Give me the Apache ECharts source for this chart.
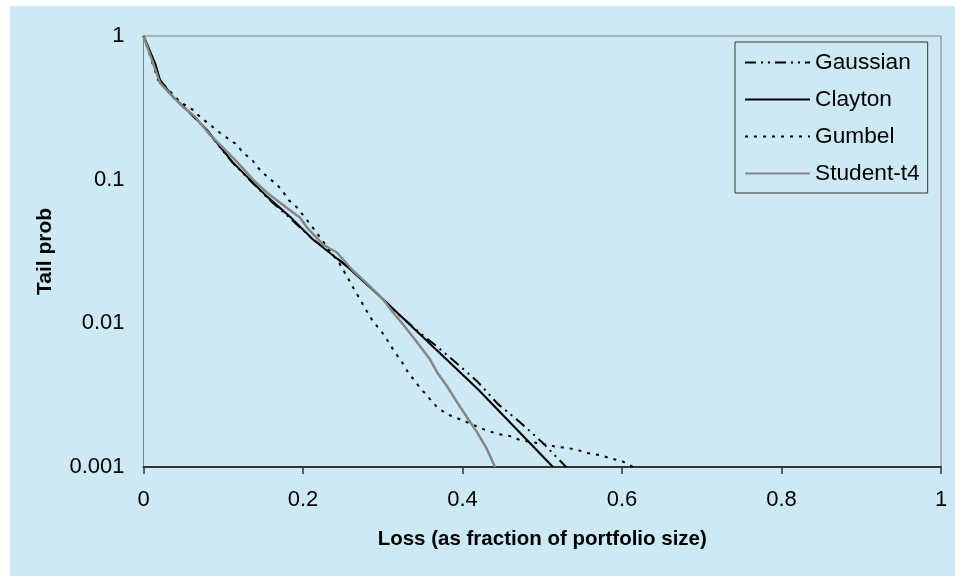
<!DOCTYPE html>
<html>
<head>
<meta charset="utf-8">
<title>Tail probability of portfolio loss</title>
<script src="https://cdn.jsdelivr.net/npm/echarts@6/dist/echarts.min.js"></script>
<style>
  html, body { margin: 0; padding: 0; background: #ffffff; }
  #wrap { position: relative; width: 966px; height: 578px; background: #ffffff; overflow: hidden; }
  #panel { position: absolute; left: 10px; top: 6px; width: 945px; height: 570px; background: #cdeaf4; }
  #chart { position: absolute; left: 0; top: 0; width: 966px; height: 578px; }
</style>
</head>
<body>
<div id="wrap">
  <div id="panel"></div>
  <div id="chart"></div>
</div>
<script>
// Loss levels (fraction of portfolio size) and tail probabilities per copula
const gaussianLoss = [0, 0.0144, 0.0207, 0.037, 0.0583, 0.0796, 0.0959, 0.112, 0.1335, 0.155, 0.1837, 0.2125, 0.2552, 0.2966, 0.3179, 0.3442, 0.3693, 0.3969, 0.4182, 0.4445, 0.4721, 0.4997, 0.53];
const gaussianProb = [1, 0.64, 0.49, 0.375, 0.29, 0.22, 0.168, 0.131, 0.099, 0.075, 0.054, 0.0385, 0.025, 0.0155, 0.0118, 0.0088, 0.0068, 0.00503, 0.00396, 0.00274, 0.00205, 0.00149, 0.001];

const claytonLoss = [0, 0.0144, 0.0207, 0.037, 0.0583, 0.0796, 0.0959, 0.112, 0.1335, 0.155, 0.1837, 0.2125, 0.2552, 0.2966, 0.3179, 0.4194, 0.5135];
const claytonProb = [1, 0.65, 0.495, 0.377, 0.292, 0.222, 0.170, 0.132, 0.100, 0.0762, 0.0553, 0.0383, 0.0249, 0.0154, 0.0119, 0.00348, 0.001];

const gumbelLoss = [0, 0.0182, 0.0232, 0.0458, 0.062, 0.0708, 0.0834, 0.0959, 0.117, 0.1248, 0.136, 0.1436, 0.1548, 0.1674, 0.1749, 0.1812, 0.1925, 0.2025, 0.2113, 0.2464, 0.2552, 0.2627, 0.2715, 0.2802, 0.2878, 0.2991, 0.3066, 0.3129, 0.3241, 0.3317, 0.3442, 0.3592, 0.368, 0.3806, 0.3931, 0.4056, 0.4194, 0.432, 0.4445, 0.4595, 0.4721, 0.4997, 0.5185, 0.531, 0.5448, 0.5574, 0.5724, 0.5875, 0.6, 0.6138];
const gumbelProb = [1, 0.495, 0.47, 0.348, 0.306, 0.274, 0.241, 0.212, 0.175, 0.154, 0.138, 0.121, 0.105, 0.0923, 0.0826, 0.0727, 0.0639, 0.0545, 0.0472, 0.0257, 0.0212, 0.0178, 0.0147, 0.0121, 0.0103, 0.00866, 0.0075, 0.00659, 0.00536, 0.00457, 0.00371, 0.00297, 0.00261, 0.00233, 0.00219, 0.00205, 0.0019, 0.00178, 0.0017, 0.00164, 0.00154, 0.00145, 0.00138, 0.00136, 0.00131, 0.00125, 0.00121, 0.00114, 0.0011, 0.001];

const studentLoss = [0, 0.0207, 0.037, 0.0495, 0.0646, 0.0708, 0.0834, 0.0997, 0.1172, 0.1373, 0.1549, 0.1712, 0.1875, 0.1962, 0.205, 0.2251, 0.2426, 0.2614, 0.284, 0.3003, 0.3129, 0.3254, 0.343, 0.3592, 0.368, 0.3806, 0.3931, 0.4056, 0.4182, 0.4307, 0.4408];
const studentProb = [1, 0.472, 0.377, 0.321, 0.274, 0.249, 0.205, 0.167, 0.133, 0.1, 0.0812, 0.0692, 0.059, 0.0545, 0.0464, 0.0354, 0.0311, 0.0237, 0.0181, 0.0147, 0.0119, 0.00984, 0.00738, 0.00562, 0.00457, 0.00365, 0.00283, 0.00222, 0.00175, 0.00133, 0.001];

const seriesNames = ['Gaussian', 'Clayton', 'Gumbel', 'Student-t4'];
const xTickLabels = ['0', '0.2', '0.4', '0.6', '0.8', '1'];
const yTickLabels = ['0.001', '0.01', '0.1', '1'];
const xTitle = 'Loss (as fraction of portfolio size)';
const yTitle = 'Tail prob';

function pairs(xs, ys) {
  return xs.map((x, i) => [x, ys[i]]);
}

const FONT = '"Liberation Sans", Arial, Helvetica, sans-serif';

const chart = echarts.init(document.getElementById('chart'), null, { renderer: 'canvas' });

chart.setOption({
  animation: false,
  backgroundColor: 'transparent',
  textStyle: { fontFamily: FONT },
  grid: {
    left: 143.5,
    top: 36,
    right: 25,
    bottom: 111,
    show: true,
    borderColor: '#808080',
    borderWidth: 1,
    backgroundColor: 'transparent'
  },
  legend: {
    orient: 'vertical',
    left: 735,
    top: 42,
    padding: [9, 8, 8, 9],
    itemWidth: 65,
    itemHeight: 16,
    itemGap: 14,
    borderColor: '#333333',
    borderWidth: 1,
    // line samples only, no marker in the middle
    itemStyle: { color: 'transparent', borderColor: 'transparent', borderWidth: 0, opacity: 0 },
    textStyle: { fontFamily: FONT, fontSize: 22.7, color: '#000000' },
    data: seriesNames
  },
  xAxis: {
    type: 'value',
    min: 0,
    max: 1,
    interval: 0.2,
    name: xTitle,
    nameLocation: 'middle',
    nameGap: 62,
    nameTextStyle: { fontFamily: FONT, fontSize: 20.5, fontWeight: 'bold', color: '#000000' },
    axisLine: { show: true, lineStyle: { color: '#333333', width: 2 } },
    axisTick: { show: true, length: 7, lineStyle: { color: '#333333', width: 1.5 } },
    axisLabel: {
      margin: 22,
      fontFamily: FONT,
      fontSize: 22,
      color: '#000000',
      formatter: v => xTickLabels[Math.round(v / 0.2)]
    },
    splitLine: { show: false }
  },
  yAxis: {
    type: 'log',
    logBase: 10,
    min: 0.001,
    max: 1,
    name: yTitle,
    nameLocation: 'middle',
    nameGap: 88,
    nameRotate: 90,
    nameTextStyle: { fontFamily: FONT, fontSize: 21, fontWeight: 'bold', color: '#000000' },
    axisLine: { show: true, lineStyle: { color: '#808080', width: 1 } },
    axisTick: { show: false },
    axisLabel: {
      margin: 19,
      fontFamily: FONT,
      fontSize: 22,
      color: '#000000',
      formatter: v => yTickLabels[Math.round(Math.log10(v)) + 3]
    },
    splitLine: { show: false },
    minorTick: { show: false }
  },
  series: [
    {
      name: seriesNames[0],
      type: 'line',
      symbol: 'none',
      data: pairs(gaussianLoss, gaussianProb),
      lineStyle: { color: '#000000', width: 2, type: [11, 5, 2, 5, 2, 5] },
      itemStyle: { color: '#000000' },
      z: 2
    },
    {
      name: seriesNames[1],
      type: 'line',
      symbol: 'none',
      data: pairs(claytonLoss, claytonProb),
      lineStyle: { color: '#000000', width: 2, type: 'solid' },
      itemStyle: { color: '#000000' },
      z: 3
    },
    {
      name: seriesNames[2],
      type: 'line',
      symbol: 'none',
      data: pairs(gumbelLoss, gumbelProb),
      lineStyle: { color: '#000000', width: 2, type: [3, 6] },
      itemStyle: { color: '#000000' },
      z: 4
    },
    {
      name: seriesNames[3],
      type: 'line',
      symbol: 'none',
      data: pairs(studentLoss, studentProb),
      lineStyle: { color: '#868686', width: 2.5, type: 'solid' },
      itemStyle: { color: '#868686' },
      z: 5
    }
  ]
});
</script>
</body>
</html>
